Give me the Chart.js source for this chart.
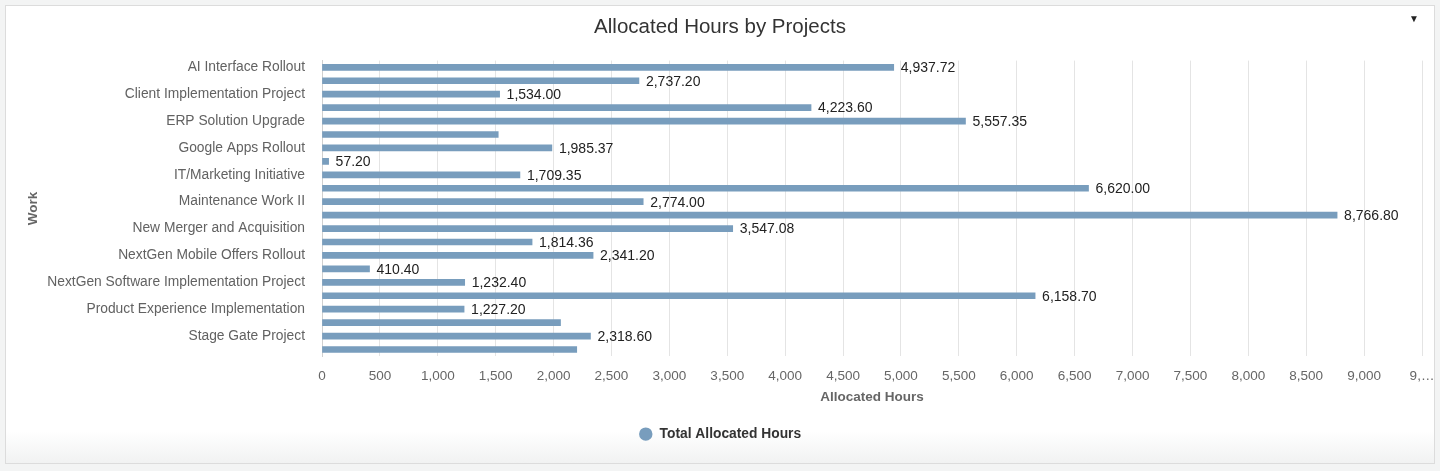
<!DOCTYPE html>
<html>
<head>
<meta charset="utf-8">
<script src="https://cdn.jsdelivr.net/npm/chart.js@4/dist/chart.umd.min.js"></script>
<style>
  html, body { margin: 0; padding: 0; }
  body { width: 1440px; height: 471px; background: #f3f4f4; position: relative; overflow: hidden; font-family: "Liberation Sans", Arial, sans-serif; }
  #card { position: absolute; left: 5px; top: 5px; width: 1428px; height: 457px; border: 1px solid #dcdcdc; background: linear-gradient(to bottom, #ffffff 0%, #ffffff 93%, #f1f2f2 100%); }
  #chartWrap { position: absolute; left: 0; top: 0; width: 1440px; height: 471px; }
  #menu { position: absolute; left: 1409px; top: 13px; font-size: 10px; color: #222; }
</style>
</head>
<body>
<div id="card"></div>
<div id="chartWrap"><canvas id="c" width="1440" height="471"></canvas></div>
<div id="menu">▼</div>
<script>
const categories = [
  "AI Interface Rollout",
  "Application Modernization",
  "Client Implementation Project",
  "Data Center Migration",
  "ERP Solution Upgrade",
  "Finance System Upgrade",
  "Google Apps Rollout",
  "HR Portal Implementation",
  "IT/Marketing Initiative",
  "Maintenance Work I",
  "Maintenance Work II",
  "Mobile App Launch",
  "New Merger and Acquisition",
  "NextGen Infrastructure Upgrade",
  "NextGen Mobile Offers Rollout",
  "NextGen Network Upgrade",
  "NextGen Software Implementation Project",
  "Office Relocation",
  "Product Experience Implementation",
  "Sales Enablement Program",
  "Stage Gate Project",
  "Website Redesign"
];
const allocatedHours = [
  4937.72, 2737.20, 1534.00, 4223.60, 5557.35, 1522.00, 1985.37, 57.20,
  1709.35, 6620.00, 2774.00, 8766.80, 3547.08, 1814.36, 2341.20, 410.40,
  1232.40, 6158.70, 1227.20, 2060.00, 2318.60, 2200.00
];
const valueLabelShown = [
  true, true, true, true, true, false, true, true,
  true, true, true, true, true, true, true, true,
  true, true, true, false, true, false
];
const seriesName = "Total Allocated Hours";
const xTickMax = 9500;
const xTickStep = 500;

const barColor = '#789dbd';
const FF = '"Liberation Sans", Arial, sans-serif';
const fmt = v => v.toLocaleString('en-US', {minimumFractionDigits: 2, maximumFractionDigits: 2});

const valueLabels = {
  id: 'valueLabels',
  afterDatasetsDraw(chart) {
    const ctx = chart.ctx;
    const meta = chart.getDatasetMeta(0);
    ctx.save();
    ctx.font = '14px ' + FF;
    ctx.fillStyle = '#222';
    ctx.textAlign = 'left';
    ctx.textBaseline = 'middle';
    meta.data.forEach((bar, i) => {
      if (!valueLabelShown[i]) return;
      ctx.fillText(fmt(allocatedHours[i]), bar.x + 7, bar.y + 1);
    });
    ctx.restore();
  }
};

new Chart(document.getElementById('c'), {
  type: 'bar',
  data: {
    labels: categories,
    datasets: [{
      label: seriesName,
      data: allocatedHours,
      backgroundColor: barColor,
      borderWidth: 0,
      barThickness: 6
    }]
  },
  plugins: [valueLabels],
  options: {
    indexAxis: 'y',
    responsive: false,
    animation: false,
    layout: { padding: { left: 18, right: 18, top: 0, bottom: 20 } },
    plugins: {
      title: {
        display: true,
        text: 'Allocated Hours by Projects',
        color: '#333',
        font: { size: 20.5, weight: 'normal', family: FF },
        padding: { top: 15, bottom: 21 }
      },
      legend: {
        position: 'bottom',
        labels: {
          usePointStyle: true,
          pointStyle: 'circle',
          boxHeight: 9.5,
          color: '#333',
          padding: 16,
          font: { size: 13.8, weight: 'bold', family: FF }
        }
      },
      tooltip: { enabled: false }
    },
    scales: {
      x: {
        min: 0,
        max: xTickMax,
        afterFit: (s) => { s.height = 55; s.paddingRight = 0; s.paddingLeft = 0; },
        ticks: {
          stepSize: xTickStep,
          color: '#666',
          padding: 12,
          font: { size: 13.5, family: FF },
          callback: (v) => v === xTickMax ? '9,…' : v.toLocaleString('en-US'),
          maxRotation: 0,
          autoSkip: false
        },
        grid: { color: '#e4e4e4', drawTicks: false },
        border: { display: false },
        title: {
          display: true,
          text: 'Allocated Hours',
          color: '#666',
          padding: { top: 4, bottom: 6 },
          font: { size: 13.5, weight: 'bold', family: FF }
        }
      },
      y: {
        afterFit: (s) => { s.width = 304; },
        ticks: {
          color: '#626262',
          padding: 17,
          autoSkip: false,
          font: { size: 13.8, family: FF },
          callback: function(v, i) { return i % 2 === 0 ? categories[i] : ''; }
        },
        grid: { display: false, drawTicks: false },
        border: { display: true, color: '#d0d0d0' },
        title: {
          display: true,
          text: 'Work',
          color: '#666',
          padding: 7,
          font: { size: 13.5, weight: 'bold', family: FF }
        }
      }
    }
  }
});
</script>
</body>
</html>
